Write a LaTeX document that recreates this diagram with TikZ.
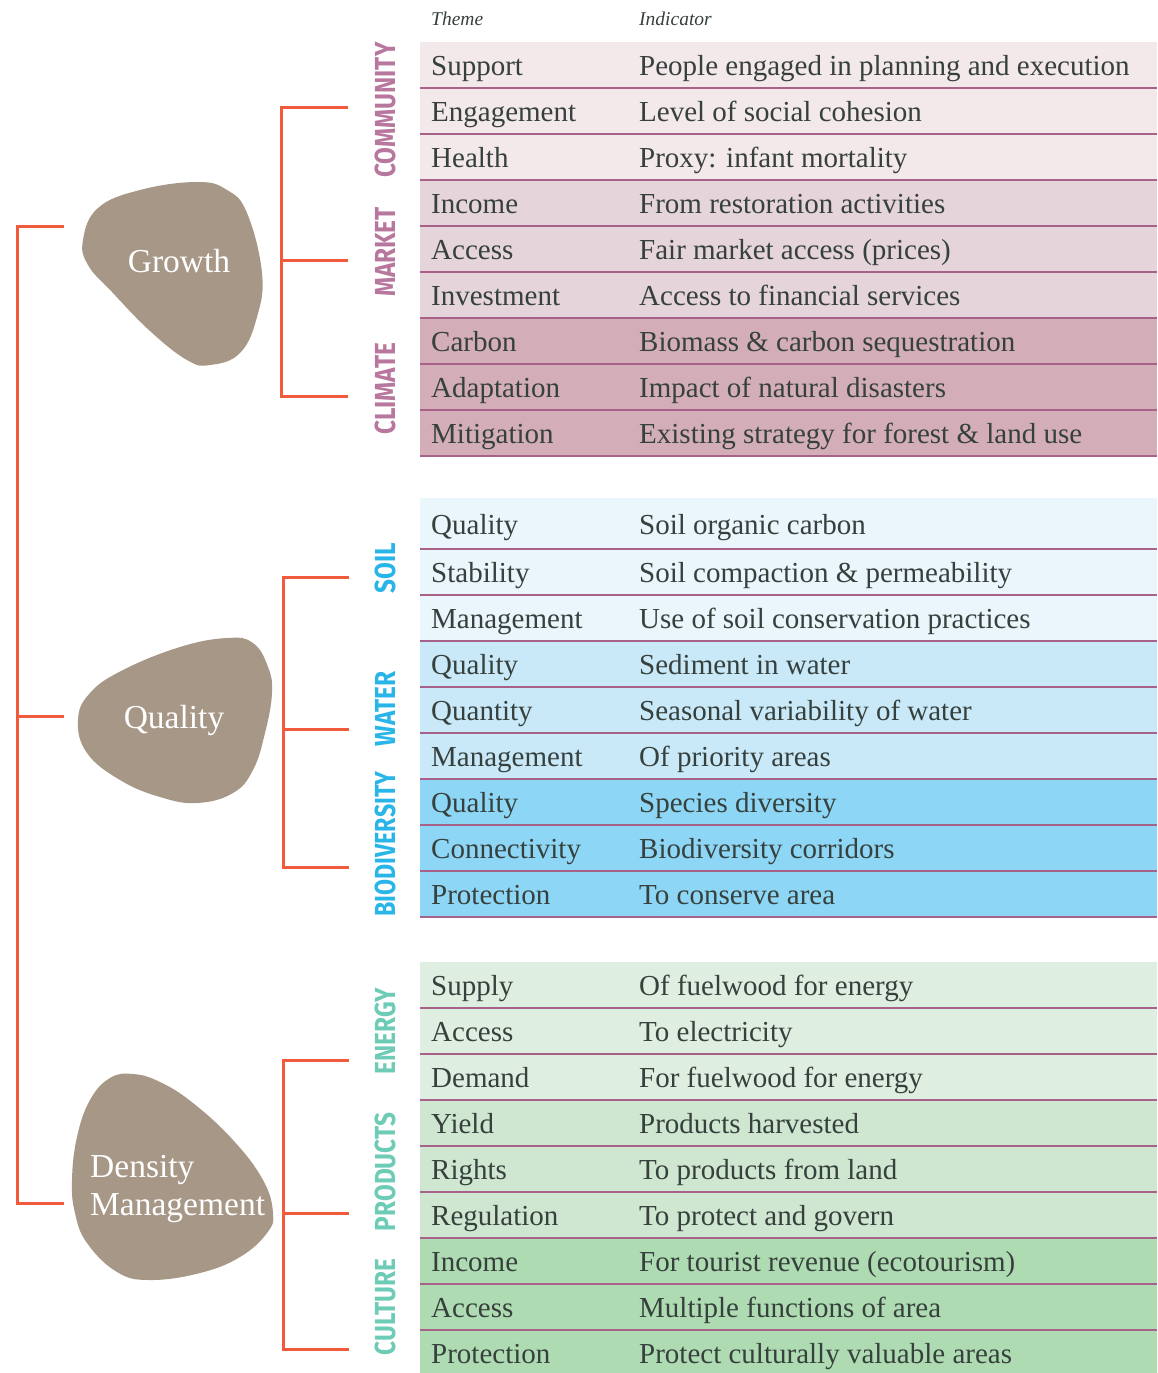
\documentclass[tikz,border=0pt]{standalone}
\usepackage{fontspec}
\usepackage{graphicx}
\setmainfont{Liberation Serif}
\newfontfamily\labelfont{Fira Sans}

\definecolor{textc}{HTML}{36403C}
\definecolor{sepc}{HTML}{A8628A}
\definecolor{brc}{HTML}{F15A3D}
\definecolor{blobc}{HTML}{A69787}
\definecolor{commf}{HTML}{F3E8EA}
\definecolor{markf}{HTML}{E5D4D9}
\definecolor{climf}{HTML}{D3AEB8}
\definecolor{soilf}{HTML}{EAF5FC}
\definecolor{waterf}{HTML}{C9E9F9}
\definecolor{biof}{HTML}{8ED6F5}
\definecolor{enerf}{HTML}{DEEEE0}
\definecolor{prodf}{HTML}{CFE6D0}
\definecolor{cultf}{HTML}{AFDBB3}
\definecolor{pinkl}{HTML}{B8789E}
\definecolor{bluel}{HTML}{2AB5E8}
\definecolor{greenl}{HTML}{6DCBB6}

% one table row: top, bottom, fill, theme, indicator, id
\newcommand{\tabrow}[6]{%
  \fill[#3] (420,#1) rectangle (1157,#2);
  \node[cell] (th#6) at (431,{(#1+#2)/2+10.5}) {#4};
  \node[cell] (in#6) at (639,{(#1+#2)/2+10.5}) {#5};
}

\begin{document}
\begin{tikzpicture}[x=1pt,y=-1pt,
  cell/.style={anchor=base west,inner sep=0pt,text=textc,font=\fontsize{29}{34}\selectfont},
  hdr/.style={anchor=base west,inner sep=0pt,text=textc,font=\fontsize{19.5}{22}\selectfont\itshape},
  sepline/.style={draw=sepc,line width=1.6pt},
  br/.style={draw=brc,line width=3pt,line join=miter},
  blob/.style={fill=blobc},
  blobtext/.style={inner sep=0pt,text=white,font=\fontsize{33.5}{38}\selectfont},
  grp/.style={rotate=90,inner sep=0pt,font=\labelfont\bfseries\fontsize{29}{30}\selectfont}]
\useasboundingbox (0,0) rectangle (1157,1373);
\clip (0,0) rectangle (1157,1373);

% column headers
\node[hdr] (htheme) at (431,25) {Theme};
\node[hdr] (hind) at (639,25) {Indicator};

% block 1: community, market, climate
\tabrow{42}{88}{commf}{Support}{People engaged in planning and execution}{a1}
\tabrow{88}{134}{commf}{Engagement}{Level of social cohesion}{a2}
\tabrow{134}{180}{commf}{Health}{Proxy: infant mortality}{a3}
\tabrow{180}{226}{markf}{Income}{From restoration activities}{a4}
\tabrow{226}{272}{markf}{Access}{Fair market access (prices)}{a5}
\tabrow{272}{318}{markf}{Investment}{Access to financial services}{a6}
\tabrow{318}{364}{climf}{Carbon}{Biomass \& carbon sequestration}{a7}
\tabrow{364}{410}{climf}{Adaptation}{Impact of natural disasters}{a8}
\tabrow{410}{456}{climf}{Mitigation}{Existing strategy for forest \& land use}{a9}

% block 2: soil, water, biodiversity
\tabrow{498}{549}{soilf}{Quality}{Soil organic carbon}{b1}
\tabrow{549}{595}{soilf}{Stability}{Soil compaction \& permeability}{b2}
\tabrow{595}{641}{soilf}{Management}{Use of soil conservation practices}{b3}
\tabrow{641}{687}{waterf}{Quality}{Sediment in water}{b4}
\tabrow{687}{733}{waterf}{Quantity}{Seasonal variability of water}{b5}
\tabrow{733}{779}{waterf}{Management}{Of priority areas}{b6}
\tabrow{779}{825}{biof}{Quality}{Species diversity}{b7}
\tabrow{825}{871}{biof}{Connectivity}{Biodiversity corridors}{b8}
\tabrow{871}{917}{biof}{Protection}{To conserve area}{b9}

% block 3: energy, products, culture
\tabrow{962}{1008}{enerf}{Supply}{Of fuelwood for energy}{c1}
\tabrow{1008}{1054}{enerf}{Access}{To electricity}{c2}
\tabrow{1054}{1100}{enerf}{Demand}{For fuelwood for energy}{c3}
\tabrow{1100}{1146}{prodf}{Yield}{Products harvested}{c4}
\tabrow{1146}{1192}{prodf}{Rights}{To products from land}{c5}
\tabrow{1192}{1238}{prodf}{Regulation}{To protect and govern}{c6}
\tabrow{1238}{1284}{cultf}{Income}{For tourist revenue (ecotourism)}{c7}
\tabrow{1284}{1330}{cultf}{Access}{Multiple functions of area}{c8}
\tabrow{1330}{1376}{cultf}{Protection}{Protect culturally valuable areas}{c9}

% row separators
\foreach \y in {88,134,180,226,272,318,364,410,456,
                549,595,641,687,733,779,825,871,917,
                1008,1054,1100,1146,1192,1238,1284,1330}
  \draw[sepline] (420,\y) -- (1157,\y);

% group labels
\node[grp,text=pinkl] (lcomm) at (385,110) {\scalebox{0.84}[1]{COMMUNITY}};
\node[grp,text=pinkl] (lmark) at (385,252) {\scalebox{0.84}[1]{MARKET}};
\node[grp,text=pinkl] (lclim) at (385,389) {\scalebox{0.84}[1]{CLIMATE}};
\node[grp,text=bluel] (lsoil) at (385,568) {\scalebox{0.84}[1]{SOIL}};
\node[grp,text=bluel] (lwater) at (385,709) {\scalebox{0.84}[1]{WATER}};
\node[grp,text=bluel] (lbio) at (385,844) {\scalebox{0.8}[1]{BIODIVERSITY}};
\node[grp,text=greenl] (lener) at (385,1031) {\scalebox{0.84}[1]{ENERGY}};
\node[grp,text=greenl] (lprod) at (385,1172) {\scalebox{0.84}[1]{PRODUCTS}};
\node[grp,text=greenl] (lcult) at (385,1307) {\scalebox{0.84}[1]{CULTURE}};

% blobs
\fill[blob] plot[smooth cycle,tension=0.7] coordinates {
  (83,240) (98,208) (140,190) (197,182) (227,190) (247,213) (262,273)
  (257,317) (240,353) (210,365) (187,360) (150,331) (112,292) (88,265)};
\fill[blob] plot[smooth cycle,tension=0.7] coordinates {
  (78,720) (90,693) (123,670) (180,647) (227,638) (253,643) (268,667)
  (272,693) (265,733) (253,770) (233,793) (197,803) (160,797) (120,780) (87,753)};
\fill[blob] plot[smooth cycle,tension=0.7] coordinates {
  (72,1180) (77,1137) (90,1100) (110,1078) (133,1074) (160,1082) (193,1103)
  (233,1140) (263,1180) (273,1213) (267,1233) (240,1257) (200,1273)
  (150,1280) (117,1272) (87,1243) (75,1213)};

\node[blobtext,anchor=base] (growth) at (179,272) {Growth};
\node[blobtext,anchor=base] (quality) at (174,728) {Quality};
\node[blobtext,anchor=base west] (dens1) at (90,1177) {Density};
\node[blobtext,anchor=base west] (dens2) at (90,1215) {Management};

% brackets
\coordinate (m1) at (64,226);
\coordinate (m2) at (64,716);
\coordinate (m3) at (64,1203);
\draw[br] (m1) -- (17,226) |- (m3);
\draw[br] (17,716) -- (m2);

\coordinate (g1a) at (348,107);
\coordinate (g1b) at (348,260);
\coordinate (g1c) at (348,396);
\draw[br] (g1a) -- (281,107) |- (g1c);
\draw[br] (281,260) -- (g1b);

\coordinate (g2a) at (349,577);
\coordinate (g2b) at (349,729);
\coordinate (g2c) at (349,867);
\draw[br] (g2a) -- (283,577) |- (g2c);
\draw[br] (283,729) -- (g2b);

\coordinate (g3a) at (349,1060);
\coordinate (g3b) at (349,1213);
\coordinate (g3c) at (349,1349);
\draw[br] (g3a) -- (283,1060) |- (g3c);
\draw[br] (283,1213) -- (g3b);
\end{tikzpicture}
\end{document}
